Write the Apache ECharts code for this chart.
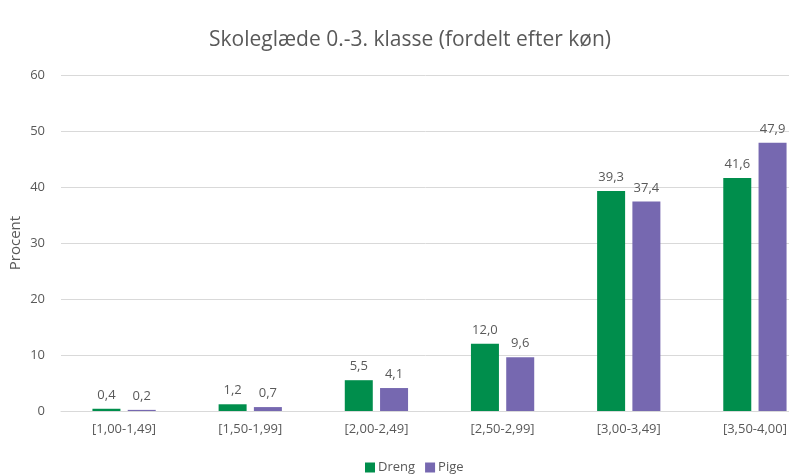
<!DOCTYPE html>
<html>
<head>
<meta charset="utf-8">
<script src="https://cdn.jsdelivr.net/npm/echarts@6/dist/echarts.min.js"></script>
<style>
  html, body { margin: 0; padding: 0; background: #fff; }
  #chart { width: 789px; height: 474px; }
</style>
</head>
<body>
<div id="chart"></div>
<script>
const categories = ['[1,00-1,49]', '[1,50-1,99]', '[2,00-2,49]', '[2,50-2,99]', '[3,00-3,49]', '[3,50-4,00]'];
const dreng = [0.4, 1.2, 5.5, 12.0, 39.3, 41.6];
const pige = [0.2, 0.7, 4.1, 9.6, 37.4, 47.9];

const txt = '#595959';
const font = 'Open Sans';

function fmt(p) {
    return p.value.toFixed(1).replace('.', ',');
}

function barSeries(name, data, color) {
    return {
        name: name,
        type: 'bar',
        data: data,
        barWidth: 28,
        barGap: '26%',
        itemStyle: { color: color },
        label: {
            show: true,
            position: 'top',
            distance: 7,
            color: txt,
            fontFamily: font,
            fontSize: 13,
            formatter: fmt
        }
    };
}

const chart = echarts.init(document.getElementById('chart'));
chart.setOption({
    animation: false,
    title: {
        text: 'Skoleglæde 0.-3. klasse (fordelt efter køn)',
        left: 204,
        top: 25,
        textStyle: { color: txt, fontFamily: font, fontSize: 21, fontWeight: 'normal' }
    },
    legend: {
        top: 456,
        left: 360,
        itemWidth: 10,
        itemHeight: 10,
        itemGap: 10,
        icon: 'rect',
        textStyle: { color: txt, fontFamily: font, fontSize: 13, padding: [0, 0, 0, -2] },
        data: ['Dreng', 'Pige']
    },
    // plot area runs past the right edge in the source picture
    grid: { left: 61, width: 757, top: 75, bottom: 63, outerBoundsMode: 'none', containLabel: false },
    xAxis: {
        type: 'category',
        data: categories,
        axisTick: { show: false },
        axisLine: { lineStyle: { color: '#d9d9d9' } },
        axisLabel: { color: txt, fontFamily: font, fontSize: 13, margin: 12 }
    },
    yAxis: {
        type: 'value',
        min: 0,
        max: 60,
        interval: 10,
        name: 'Procent',
        nameLocation: 'middle',
        nameGap: 38,
        nameMoveOverlap: false,
        nameTextStyle: { color: txt, fontFamily: font, fontSize: 15 },
        axisLabel: { color: txt, fontFamily: font, fontSize: 13, margin: 16 },
        splitLine: { lineStyle: { color: '#d9d9d9' } }
    },
    series: [
        barSeries('Dreng', dreng, '#008e4c'),
        barSeries('Pige', pige, '#7668b0')
    ]
});
</script>
</body>
</html>
